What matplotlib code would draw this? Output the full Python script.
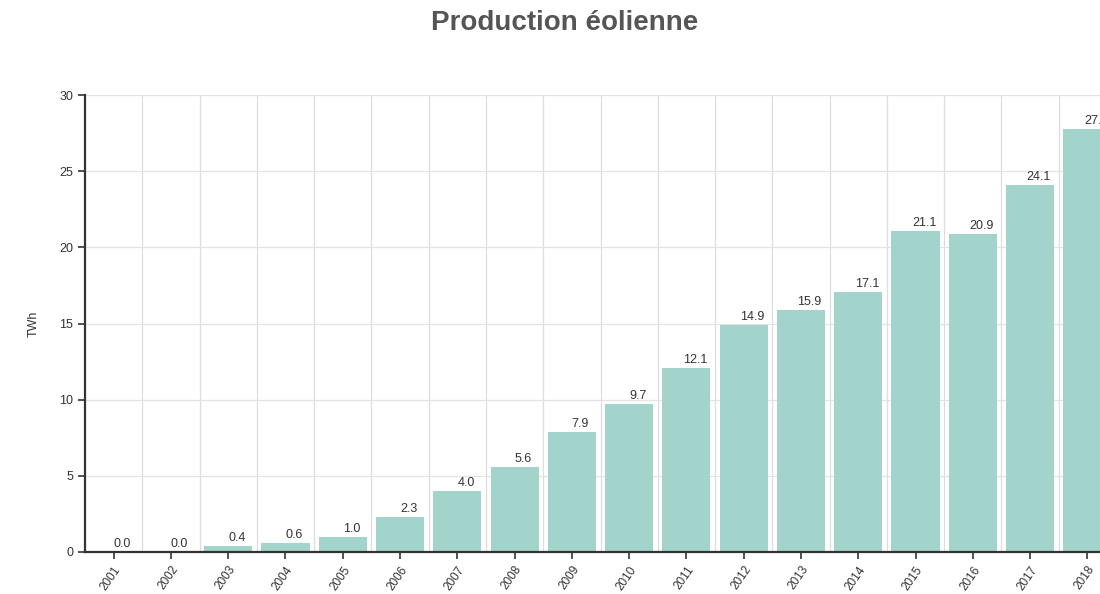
import numpy as np
import matplotlib
matplotlib.use("Agg")
import matplotlib.pyplot as plt

years = ["2001", "2002", "2003", "2004", "2005", "2006", "2007", "2008", "2009",
         "2010", "2011", "2012", "2013", "2014", "2015", "2016", "2017", "2018"]
twh = [0.0, 0.0, 0.4, 0.6, 1.0, 2.3, 4.0, 5.6, 7.9,
       9.7, 12.1, 14.9, 15.9, 17.1, 21.1, 20.9, 24.1, 27.8]

plt.rcParams["font.family"] = ["Liberation Sans", "DejaVu Sans"]

fig = plt.figure(figsize=(11, 5.94), dpi=100)
# axes deliberately runs past the right edge, like the cropped original
ax = fig.add_axes([85 / 1100, 42 / 594, 1031 / 1100, 457 / 594])

x = np.arange(len(years))
ax.bar(x, twh, width=0.84, color="#a2d4cb", zorder=2)
for xi, v in zip(x, twh):
    ax.text(xi + 0.15, v + 0.12, f"{v:.1f}", ha="center", va="bottom",
            fontsize=9, color="#333333", zorder=3)

ax.set_xlim(-0.5, len(years) - 0.5)
ax.set_ylim(0, 30)
ax.set_yticks(range(0, 31, 5))
ax.set_xticks(x)
ax.set_xticklabels(years, rotation=55, ha="right", rotation_mode="anchor",
                   fontsize=8.5, color="#333333")
ax.tick_params(axis="y", labelsize=9, labelcolor="#333333", length=5,
               width=1.2, color="#333333")
ax.tick_params(axis="x", length=5, width=1.2, color="#333333")
ax.set_xticks(x[:-1] + 0.5, minor=True)
ax.tick_params(axis="x", which="minor", length=0)
ax.grid(axis="x", which="minor", color="#dddddd", lw=0.9, zorder=0)
ax.grid(axis="y", which="major", color="#e3e3e3", lw=0.9, zorder=0)
ax.set_ylabel("TWh", fontsize=9, color="#333333", labelpad=14)

for side in ("top", "right"):
    ax.spines[side].set_visible(False)
for side in ("left", "bottom"):
    ax.spines[side].set_color("#333333")
    ax.spines[side].set_linewidth(1.6)

fig.text(565 / 1100, 1 - 23 / 594, "Production éolienne", ha="center", va="center",
         fontsize=20, fontweight="bold", color="#555555")

fig.savefig("out.png", dpi=100)
